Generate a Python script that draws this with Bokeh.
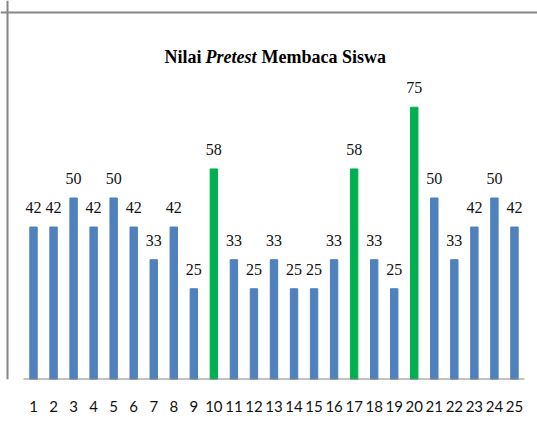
from bokeh.plotting import figure
from bokeh.models import ColumnDataSource, LabelSet, Label, Range1d, FixedTicker, Span
from bokeh.embed import file_html
from bokeh.resources import INLINE

# ---- data ----
siswa = list(range(1, 26))
nilai = [42, 42, 50, 42, 50, 42, 33, 42, 25, 58, 33, 25, 33, 25, 25, 33, 58, 33, 25, 75, 50, 33, 42, 50, 42]
highlight = [10, 17, 20]
title_parts = ["Nilai", "Pretest", "Membaca Siswa"]

BLUE = "#4F81BD"
GREEN = "#00B050"
GRAY = "#868686"
NUM_FONT = "Lato"

colors = [GREEN if s in highlight else BLUE for s in siswa]
src = ColumnDataSource(dict(x=siswa, top=nilai, color=colors, label=[str(v) for v in nilai]))

p = figure(width=537, height=431, output_backend="svg", toolbar_location=None,
           x_range=Range1d(-0.647, 26.15), y_range=Range1d(0, 104.4),
           y_axis_location=None, min_border_left=0, min_border_right=0,
           min_border_top=0, min_border_bottom=52)
p.outline_line_color = None
p.grid.visible = False
p.background_fill_color = "white"
p.border_fill_color = "white"

p.vbar(x="x", top="top", width=0.37, color="color", source=src)
p.segment(x0=[0.5], y0=[0], x1=[len(siswa) + 0.5], y1=[0], line_color=GRAY, line_width=2)

labels = LabelSet(x="x", y="top", text="label", source=src, text_align="center",
                  text_baseline="alphabetic", y_offset=14, text_font=NUM_FONT,
                  text_font_size="16px", text_color="#111111")
p.add_layout(labels)

ax = p.xaxis[0]
ax.ticker = FixedTicker(ticks=siswa)
ax.axis_line_color = None
ax.major_tick_line_color = None
ax.minor_tick_line_color = None
ax.major_tick_out = 0
ax.major_tick_in = 0
ax.major_label_standoff = 21
ax.major_label_text_font = NUM_FONT
ax.major_label_text_font_size = "15px"
ax.major_label_text_color = "#111111"

# chart-area border (top and left)
p.add_layout(Span(location=7, location_units="screen", dimension="height", line_color=GRAY, line_width=2))
p.add_layout(Span(location=367, location_units="screen", dimension="width", line_color=GRAY, line_width=2))

# title with italic middle part
styles = ["bold", "bold italic", "bold"]
xs = [164, 205, 261]
for t, st, xx in zip(title_parts, styles, xs):
    p.add_layout(Label(x=xx, y=323, x_units="screen", y_units="screen", text=t,
                       text_font="Liberation Serif", text_font_style=st,
                       text_font_size="18px", text_align="left",
                       text_baseline="alphabetic", text_color="#000000"))

open("out.html", "w").write(file_html(p, INLINE))
